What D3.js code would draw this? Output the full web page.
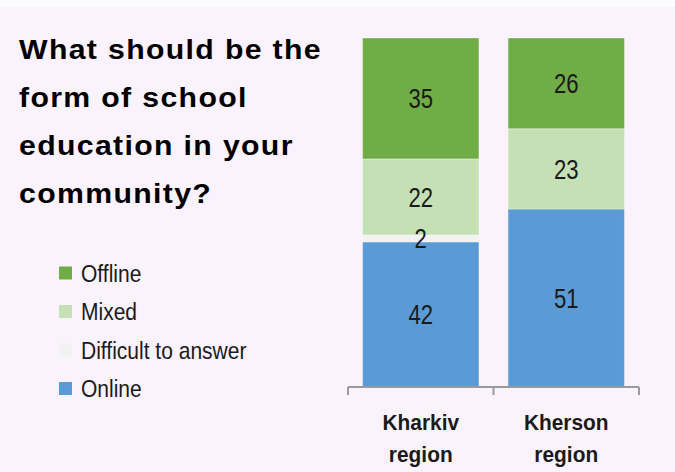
<!DOCTYPE html>
<html>
<head>
<meta charset="utf-8">
<script src="https://cdn.jsdelivr.net/npm/d3@7"></script>
<style>
  html, body { margin: 0; padding: 0; background: #faf2fc; }
  svg { display: block; }
</style>
</head>
<body>
<svg id="chart" width="675" height="472"></svg>
<script>
// Survey shares (%), stacked bottom to top
const regions = ["Kharkiv region", "Kherson region"];
const regionLines = [["Kharkiv", "region"], ["Kherson", "region"]];
const seriesNames = ["Online", "Difficult to answer", "Mixed", "Offline"];
const online = [42, 51];
const difficult = [2, 0];
const mixed = [22, 23];
const offline = [35, 26];
const seriesColors = ["#5b9bd5", "#f2f2f2", "#c5e0b4", "#70ad47"];
const legendOrder = ["Offline", "Mixed", "Difficult to answer", "Online"];
const titleLines = ["What should be the", "form of school", "education in your", "community?"];

const rows = regions.map((r, i) => ({
  region: r,
  "Online": online[i],
  "Difficult to answer": difficult[i],
  "Mixed": mixed[i],
  "Offline": offline[i]
}));

const svg = d3.select("#chart");

// light strip along the top edge
svg.append("rect").attr("x", 0).attr("y", 0).attr("width", 675).attr("height", 7).attr("fill", "#fcfbfe");

const x = d3.scaleBand().domain(regions).range([348, 639]).paddingInner(0.2).paddingOuter(0.1);
const y = d3.scaleLinear().domain([0, 1]).range([387, 38]);
const color = d3.scaleOrdinal().domain(seriesNames).range(seriesColors);

const stack = d3.stack().keys(seriesNames).offset(d3.stackOffsetExpand);
const layers = stack(rows);

const g = svg.append("g");
layers.forEach(layer => {
  g.selectAll(null).data(layer).enter().append("rect")
    .attr("x", d => x(d.data.region))
    .attr("width", x.bandwidth())
    .attr("y", d => y(d[1]))
    .attr("height", d => y(d[0]) - y(d[1]))
    .attr("fill", color(layer.key))
    .attr("stroke", "rgba(255,255,255,0.35)")
    .attr("stroke-width", 1);
});

// value labels centred in each segment
layers.forEach(layer => {
  layer.forEach(d => {
    const v = d.data[layer.key];
    if (!v) return;
    const cx = x(d.data.region) + x.bandwidth() / 2;
    const cy = (y(d[0]) + y(d[1])) / 2;
    svg.append("text")
      .attr("transform", `translate(${cx},${cy + 10}) scale(0.82,1)`)
      .attr("text-anchor", "middle")
      .attr("font-family", "Liberation Sans, Arial, sans-serif")
      .attr("font-size", 27)
      .attr("fill", "#1a1a1a")
      .text(v);
  });
});

// category axis: baseline with boundary ticks
const axisY = y(0);
const step = x.step();
const [r0, r1] = x.range();
const tickXs = [r0].concat(regions.map(r => x(r) + x.bandwidth() + step * x.paddingInner() / 2));
tickXs[tickXs.length - 1] = r1;
const axis = svg.append("g").attr("stroke", "#9a9a9a").attr("stroke-width", 2).attr("fill", "none");
axis.append("line").attr("x1", r0).attr("x2", r1).attr("y1", axisY).attr("y2", axisY);
tickXs.forEach(tx => axis.append("line").attr("x1", tx).attr("x2", tx).attr("y1", axisY).attr("y2", axisY + 8));

regions.forEach((r, i) => {
  const cx = x(r) + x.bandwidth() / 2;
  regionLines[i].forEach((line, j) => {
    svg.append("text")
      .attr("transform", `translate(${cx},${430 + j * 32}) scale(0.95,1)`)
      .attr("text-anchor", "middle")
      .attr("font-family", "Liberation Sans, Arial, sans-serif")
      .attr("font-weight", "bold")
      .attr("font-size", 22)
      .attr("fill", "#1a1a1a")
      .text(line);
  });
});

// title
titleLines.forEach((line, i) => {
  svg.append("text")
    .attr("transform", `translate(19,${59 + i * 48}) scale(1.12,1)`)
    .attr("font-family", "Liberation Sans, Arial, sans-serif")
    .attr("font-weight", "bold")
    .attr("font-size", 27)
    .attr("letter-spacing", 1.2)
    .attr("fill", "#000")
    .text(line);
});

// legend
const legend = svg.append("g");
legendOrder.forEach((name, i) => {
  const cy = 273 + i * 38.5;
  legend.append("rect")
    .attr("x", 59).attr("y", cy - 6.5).attr("width", 13).attr("height", 13)
    .attr("fill", color(name));
  legend.append("text")
    .attr("transform", `translate(81,${cy + 8.5}) scale(0.876,1)`)
    .attr("font-family", "Liberation Sans, Arial, sans-serif")
    .attr("font-size", 24)
    .attr("fill", "#1a1a1a")
    .text(name);
});
</script>
</body>
</html>
